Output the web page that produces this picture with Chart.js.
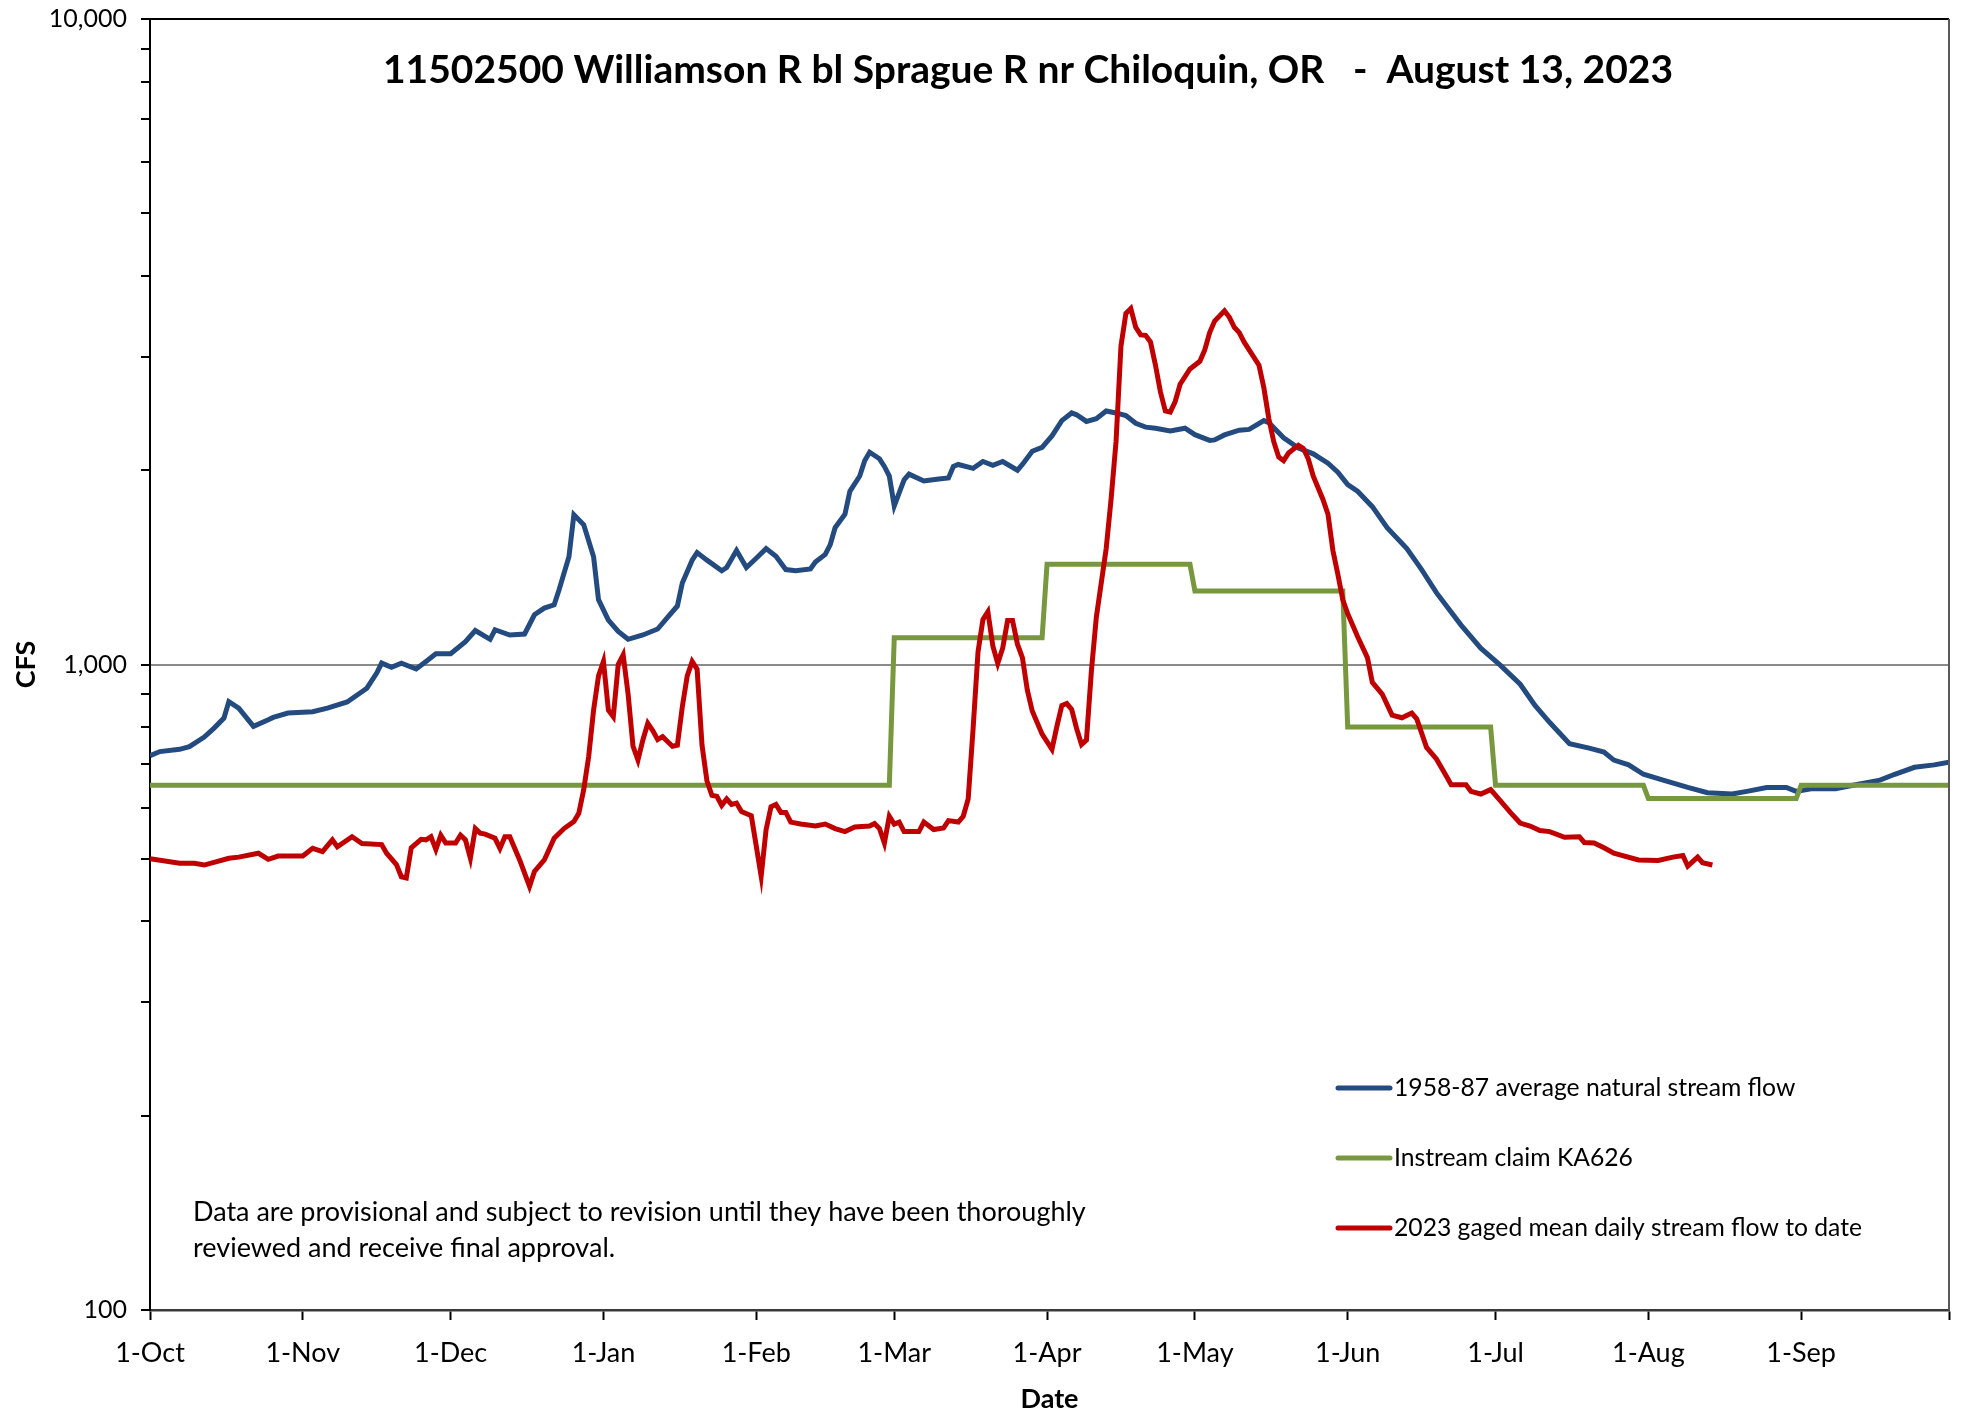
<!DOCTYPE html>
<html>
<head>
<meta charset="utf-8">
<script src="https://cdn.jsdelivr.net/npm/chart.js@4.4.0/dist/chart.umd.min.js"></script>
<style>
  html, body { margin: 0; padding: 0; background: #fff; }
  #wrap { width: 1965px; height: 1415px; }
</style>
</head>
<body>
<div id="wrap"><canvas id="flowChart" width="1965" height="1415"></canvas></div>
<script>
const chartTitle = '11502500 Williamson R bl Sprague R nr Chiloquin, OR   -  August 13, 2023';
const noteLines = [
  'Data are provisional and subject to revision until they have been thoroughly',
  'reviewed and receive final approval.'
];

// day 0 = 1-Oct-2022
const monthStartDays = [0, 31, 61, 92, 123, 151, 182, 212, 243, 273, 304, 335, 365];
const monthLabels = ['1-Oct', '1-Nov', '1-Dec', '1-Jan', '1-Feb', '1-Mar', '1-Apr', '1-May', '1-Jun', '1-Jul', '1-Aug', '1-Sep', ''];
const yTickValues = [100, 200, 300, 400, 500, 600, 700, 800, 900, 1000, 2000, 3000, 4000, 5000, 6000, 7000, 8000, 9000, 10000];
const yLabelled = [100, 1000, 10000];

// 1958-87 average natural stream flow
const avgDays = [0, 2, 6, 8, 11, 13, 15, 16, 18, 21, 24, 25, 28, 33, 36, 40, 44, 46, 47, 49, 51, 54, 56, 58, 61, 64, 66, 69, 70, 73, 76, 78, 80, 82, 83, 85, 86, 88, 90, 91, 93, 95, 97, 100, 103, 105, 107, 108, 110, 111, 113, 116, 117, 119, 121, 123, 125, 127, 129, 131, 134, 135, 137, 138, 139, 141, 142, 144, 145, 146, 148, 149, 150, 151, 153, 154, 157, 160, 162, 163, 164, 167, 169, 171, 173, 176, 177, 179, 181, 182, 183, 185, 187, 188, 190, 192, 194, 196, 198, 200, 202, 204, 207, 210, 212, 215, 216, 218, 221, 223, 226, 227, 230, 233, 236, 239, 241, 243, 245, 248, 251, 255, 258, 261, 266, 270, 274, 278, 281, 284, 288, 292, 295, 297, 300, 303, 307, 312, 316, 321, 324, 328, 332, 334, 337, 342, 345, 351, 354, 358, 362, 365];
const avgFlow = [722, 733, 739, 746, 772, 797, 826, 876, 856, 802, 821, 828, 841, 845, 856, 875, 919, 970, 1005, 990, 1005, 984, 1011, 1039, 1039, 1085, 1129, 1094, 1132, 1111, 1115, 1194, 1223, 1237, 1306, 1469, 1706, 1646, 1469, 1260, 1172, 1125, 1094, 1111, 1135, 1183, 1232, 1337, 1451, 1491, 1451, 1397, 1413, 1502, 1413, 1461, 1512, 1471, 1403, 1397, 1406, 1441, 1481, 1532, 1629, 1709, 1855, 1959, 2069, 2132, 2083, 2027, 1959, 1761, 1932, 1972, 1924, 1938, 1945, 2027, 2041, 2013, 2063, 2035, 2063, 2000, 2041, 2140, 2169, 2214, 2260, 2387, 2453, 2437, 2380, 2403, 2470, 2453, 2430, 2364, 2332, 2323, 2301, 2323, 2270, 2224, 2228, 2268, 2307, 2313, 2387, 2370, 2245, 2165, 2120, 2050, 1986, 1900, 1855, 1756, 1629, 1512, 1403, 1292, 1151, 1060, 997, 932, 864, 813, 754, 742, 732, 711, 699, 676, 662, 645, 633, 630, 636, 645, 645, 636, 642, 642, 649, 662, 676, 693, 699, 706];

// Instream claim KA626, one value per month Oct..Sep
const claimByMonth = [650, 650, 650, 650, 650, 1100, 1430, 1300, 800, 650, 620, 650];

// 2023 gaged mean daily stream flow
const gagedDays = [0, 6, 9, 11, 16, 18, 22, 24, 26, 31, 33, 35, 37, 38, 41, 43, 47, 48, 50, 51, 52, 53, 55, 56, 57, 58, 59, 60, 62, 63, 64, 65, 66, 67, 68, 70, 71, 72, 73, 75, 77, 78, 80, 82, 84, 86, 87, 88, 89, 90, 91, 92, 93, 94, 95, 96, 97, 98, 99, 100, 101, 102, 103, 104, 105, 106, 107, 108, 109, 110, 111, 112, 113, 114, 115, 116, 117, 118, 119, 120, 122, 124, 125, 126, 127, 128, 129, 130, 132, 135, 137, 139, 141, 143, 146, 147, 148, 149, 150, 151, 152, 153, 156, 157, 159, 161, 162, 164, 165, 166, 167, 168, 169, 170, 171, 172, 173, 174, 175, 176, 177, 178, 179, 181, 183, 184, 185, 186, 187, 188, 189, 190, 191, 192, 194, 195, 196, 197, 198, 199, 200, 201, 202, 203, 204, 205, 206, 207, 208, 209, 211, 213, 214, 215, 216, 218, 219, 220, 221, 222, 225, 226, 227, 228, 229, 230, 231, 233, 234, 235, 236, 238, 239, 240, 241, 242, 243, 245, 247, 248, 250, 252, 254, 256, 257, 259, 261, 263, 264, 267, 268, 270, 272, 274, 276, 278, 280, 282, 284, 287, 290, 291, 293, 295, 297, 302, 306, 309, 311, 312, 314, 315, 317];
const gagedFlow = [500, 492, 492, 489, 501, 503, 510, 499, 505, 505, 519, 513, 535, 522, 541, 528, 526, 510, 490, 469, 467, 520, 536, 535, 541, 517, 544, 529, 529, 544, 535, 501, 557, 548, 546, 538, 519, 541, 541, 498, 453, 478, 498, 538, 557, 571, 588, 640, 720, 850, 960, 1011, 850, 830, 1000, 1035, 900, 747, 711, 764, 811, 790, 765, 773, 760, 747, 750, 860, 960, 1011, 984, 750, 660, 627, 625, 605, 619, 607, 610, 592, 583, 470, 555, 602, 607, 590, 590, 570, 566, 562, 566, 557, 551, 560, 562, 567, 557, 529, 582, 566, 570, 551, 551, 570, 555, 558, 573, 570, 582, 619, 796, 1046, 1175, 1207, 1068, 1004, 1060, 1170, 1170, 1075, 1025, 913, 847, 780, 739, 802, 864, 870, 852, 796, 752, 764, 977, 1183, 1512, 1805, 2214, 3114, 3498, 3560, 3330, 3240, 3236, 3158, 2909, 2645, 2470, 2460, 2555, 2718, 2870, 2949, 3072, 3267, 3404, 3532, 3450, 3330, 3267, 3158, 2909, 2681, 2403, 2214, 2097, 2069, 2126, 2185, 2161, 2083, 1959, 1800, 1709, 1502, 1380, 1260, 1199, 1105, 1025, 938, 900, 835, 827, 841, 824, 744, 714, 672, 651, 651, 636, 630, 640, 615, 590, 568, 562, 553, 551, 540, 541, 530, 529, 520, 510, 498, 497, 503, 506, 487, 503, 493, 489];

const claimPoints = [];
claimByMonth.forEach((v, m) => {
  const last = m === claimByMonth.length - 1 ? monthStartDays[m + 1] : monthStartDays[m + 1] - 1;
  claimPoints.push({ x: monthStartDays[m], y: v }, { x: last, y: v });
});

const fontFamily = 'Lato, "Liberation Sans", sans-serif';

const overlay = {
  id: 'overlay',
  afterDraw(chart) {
    const { ctx, chartArea: a } = chart;
    ctx.save();
    ctx.lineWidth = 2;
    ctx.strokeStyle = '#000';
    ctx.beginPath(); ctx.moveTo(a.left, a.top); ctx.lineTo(a.right, a.top); ctx.stroke();
    ctx.strokeStyle = '#595959';
    ctx.beginPath(); ctx.moveTo(a.right, a.top); ctx.lineTo(a.right, a.bottom); ctx.stroke();

    ctx.fillStyle = '#000';
    ctx.textBaseline = 'middle';
    ctx.textAlign = 'center';
    ctx.font = 'bold 39px ' + fontFamily;
    ctx.fillText(chartTitle, 1028, 70);

    ctx.textAlign = 'left';
    ctx.font = '27px ' + fontFamily;
    noteLines.forEach((t, i) => ctx.fillText(t, 193, 1212 + i * 36));

    // legend
    const rows = [1088, 1158, 1228];
    ctx.font = '24.7px ' + fontFamily;
    chart.data.datasets.forEach((ds, i) => {
      ctx.strokeStyle = ds.borderColor;
      ctx.lineWidth = 5;
      ctx.lineCap = 'round';
      ctx.beginPath(); ctx.moveTo(1338, rows[i]); ctx.lineTo(1390, rows[i]); ctx.stroke();
      ctx.fillStyle = '#000';
      ctx.fillText(ds.label, 1394, rows[i]);
    });
    ctx.restore();
  }
};

new Chart(document.getElementById('flowChart'), {
  type: 'line',
  data: {
    datasets: [
      {
        label: '1958-87 average natural stream flow',
        data: avgDays.map((d, i) => ({ x: d, y: avgFlow[i] })),
        borderColor: '#234b7f',
        borderWidth: 5,
        pointRadius: 0,
        order: 2
      },
      {
        label: 'Instream claim KA626',
        data: claimPoints,
        borderColor: '#77983e',
        borderWidth: 5,
        pointRadius: 0,
        order: 1
      },
      {
        label: '2023 gaged mean daily stream flow to date',
        data: gagedDays.map((d, i) => ({ x: d, y: gagedFlow[i] })),
        borderColor: '#c00000',
        borderWidth: 5,
        pointRadius: 0,
        order: 0
      }
    ]
  },
  options: {
    responsive: false,
    animation: false,
    layout: { padding: { top: 19, right: 16, left: 0, bottom: 0 } },
    plugins: {
      legend: { display: false },
      tooltip: { enabled: false },
      title: { display: false }
    },
    scales: {
      x: {
        type: 'linear',
        min: 0,
        max: 365,
        afterBuildTicks: s => { s.ticks = monthStartDays.map(v => ({ value: v })); },
        afterFit: s => { s.height = 105; s.paddingLeft = 0; s.paddingRight = 0; },
        grid: { drawOnChartArea: false, drawTicks: true, tickLength: 10, tickColor: '#000', tickWidth: 2 },
        border: { color: '#3a3a3a', width: 2.5 },
        ticks: {
          autoSkip: false,
          maxRotation: 0,
          padding: 17,
          color: '#000',
          font: { family: fontFamily, size: 27 },
          callback: (v, i) => monthLabels[i]
        },
        title: {
          display: true,
          text: 'Date',
          color: '#000',
          font: { family: fontFamily, size: 27, weight: 'bold' },
          padding: { top: 0, bottom: 0 }
        }
      },
      y: {
        type: 'logarithmic',
        min: 100,
        max: 10000,
        afterBuildTicks: s => { s.ticks = yTickValues.map(v => ({ value: v })); },
        afterFit: s => { s.width = 150; s.paddingTop = 0; s.paddingBottom = 0; },
        grid: {
          color: c => (c.tick && c.tick.value === 1000 ? '#8a8a8a' : 'rgba(0,0,0,0)'),
          lineWidth: 2,
          tickLength: 9,
          tickColor: '#000',
          tickWidth: 2
        },
        border: { color: '#000', width: 2 },
        ticks: {
          autoSkip: false,
          padding: 14,
          color: '#000',
          font: { family: fontFamily, size: 25 },
          callback: v => (yLabelled.includes(v) ? v.toLocaleString('en-US') : '')
        },
        title: {
          display: true,
          text: 'CFS',
          color: '#000',
          font: { family: fontFamily, size: 27, weight: 'bold' },
          padding: { top: 10, bottom: 0 }
        }
      }
    }
  },
  plugins: [overlay]
});
</script>
</body>
</html>
